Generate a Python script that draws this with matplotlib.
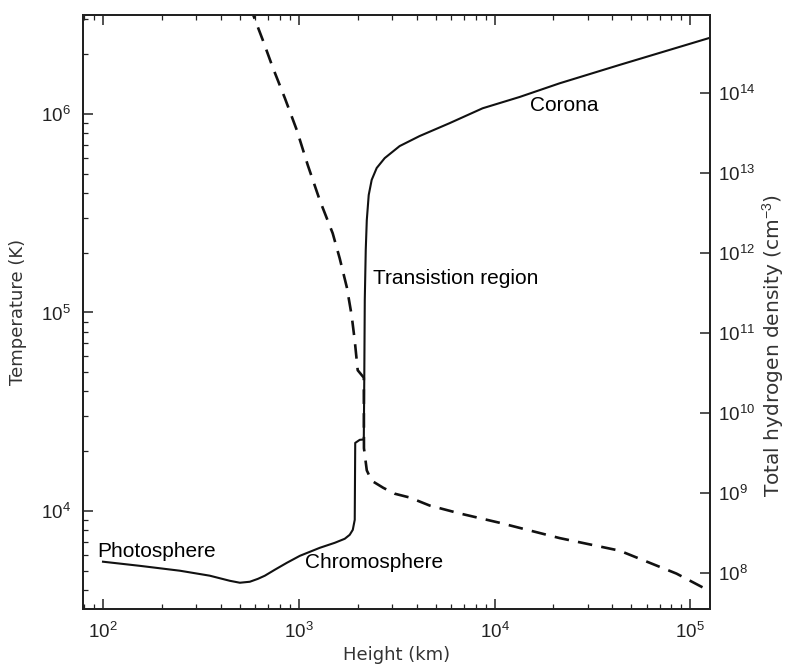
import numpy as np
import matplotlib
matplotlib.use("Agg")
import matplotlib.pyplot as plt
from matplotlib.ticker import LogLocator, FixedLocator, FixedFormatter, NullFormatter

plt.rcParams['font.family'] = ['Liberation Sans', 'DejaVu Sans']
plt.rcParams['mathtext.fontset'] = 'custom'
plt.rcParams['mathtext.rm'] = 'Liberation Sans'
plt.rcParams['mathtext.it'] = 'Liberation Sans:italic'

# temperature profile (solid)
t_height = [100, 154.5, 247, 351, 444, 500, 562, 618, 671, 755, 869, 1012,
            1280, 1527, 1717, 1820, 1887, 1931, 1942, 2048, 2148, 2160, 2173,
            2198, 2225, 2276, 2357, 2500, 2747, 3275, 4140, 5890, 8690, 13430,
            21500, 43500, 125000]
t_temp = [5540, 5280, 4990, 4710, 4440, 4340, 4390, 4540, 4710, 5050, 5470,
          5930, 6510, 6900, 7230, 7570, 8020, 9010, 22000, 22800, 22900,
          45700, 1.156e5, 2.07e5, 2.92e5, 3.91e5, 4.66e5, 5.35e5, 6.0e5,
          6.9e5, 7.75e5, 9.0e5, 1.07e6, 1.22e6, 1.43e6, 1.77e6, 2.42e6]

# total hydrogen density (dashed)
n_height = [560, 655, 736, 849, 977, 1112, 1280, 1490, 1618, 1760, 1862,
            1931, 1977, 2000, 2148, 2152, 2225, 2357, 2700, 3090, 3680, 4660,
            6620, 10600, 21500, 43500, 85000, 125000]
n_dens = [1.26e15, 4.6e14, 2.1e14, 8.65e13, 3.44e13, 1.25e13, 4.56e12,
          1.76e12, 8.55e11, 3.7e11, 1.65e11, 8.0e10, 4.5e10, 3.4e10, 2.75e10,
          3.6e9, 1.9e9, 1.41e9, 1.15e9, 9.7e8, 8.7e8, 6.9e8, 5.5e8, 4.2e8,
          2.7e8, 1.88e8, 9.7e7, 5.9e7]

x_ticks = [1e2, 1e3, 1e4, 1e5]
t_ticks = [1e4, 1e5, 1e6]
n_ticks = [1e8, 1e9, 1e10, 1e11, 1e12, 1e13, 1e14]

fig = plt.figure(figsize=(7.88, 6.66), dpi=100)
ax = fig.add_axes([0.1053, 0.0856, 0.7957, 0.8919])
ax2 = ax.twinx()

ax.plot(t_height, t_temp, color='#111111', lw=1.5, solid_joinstyle='round')
ax2.plot(n_height, n_dens, color='#111111', lw=1.9, ls=(0, (5.5, 3.5)))

ax.set_xscale('log')
ax.set_yscale('log')
ax2.set_yscale('log')
ax.set_xlim(79, 1.26e5)
ax.set_ylim(3200, 3.16e6)
ax2.set_ylim(3.5e7, 9.5e14)

def pow_labels(vals):
    return [r'$\mathregular{10^{%d}}$' % int(round(np.log10(v))) for v in vals]

ax.xaxis.set_major_locator(FixedLocator(x_ticks))
ax.xaxis.set_major_formatter(FixedFormatter(pow_labels(x_ticks)))
ax.xaxis.set_minor_locator(LogLocator(base=10, subs=np.arange(2, 10)))
ax.xaxis.set_minor_formatter(NullFormatter())
ax.yaxis.set_major_locator(FixedLocator(t_ticks))
ax.yaxis.set_major_formatter(FixedFormatter(pow_labels(t_ticks)))
ax.yaxis.set_minor_locator(LogLocator(base=10, subs=np.arange(2, 10)))
ax.yaxis.set_minor_formatter(NullFormatter())
ax2.yaxis.set_major_locator(FixedLocator(n_ticks))
ax2.yaxis.set_major_formatter(FixedFormatter(pow_labels(n_ticks)))
ax2.yaxis.set_minor_locator(FixedLocator([]))

ax.tick_params(which='both', direction='in', top=True, right=False, labelsize=13.5, colors='#222222')
ax.tick_params(which='major', length=7, width=1.1, pad=9)
ax.tick_params(which='minor', length=3.5, width=0.9)
ax2.tick_params(which='both', direction='in', labelsize=13.5, colors='#222222')
ax2.tick_params(which='major', length=7, width=1.1, pad=6)

for a in (ax, ax2):
    for s in a.spines.values():
        s.set_linewidth(1.4)
        s.set_color('#222222')

ax.set_xlabel('Height (km)', fontsize=13, family='DejaVu Sans', color='#333333', labelpad=3)
ax.set_ylabel('Temperature (K)', fontsize=13, family='DejaVu Sans', color='#333333', labelpad=10)
fig.text(773 / 788, 1 - 346 / 666, r'Total hydrogen density (cm$^{-3}$)', fontsize=14.5,
         family='DejaVu Sans', color='#333333', rotation=90, ha='center', va='center')

ax.text(93.2, 6210, 'Photosphere', fontsize=15, ha='left', va='center')
ax.text(1074, 5470, 'Chromosphere', fontsize=15, ha='left', va='center')
ax.text(2390, 1.49e5, 'Transistion region', fontsize=15, ha='left', va='center')
ax.text(15100, 1.11e6, 'Corona', fontsize=15, ha='left', va='center')

fig.savefig('out.png', dpi=100)
